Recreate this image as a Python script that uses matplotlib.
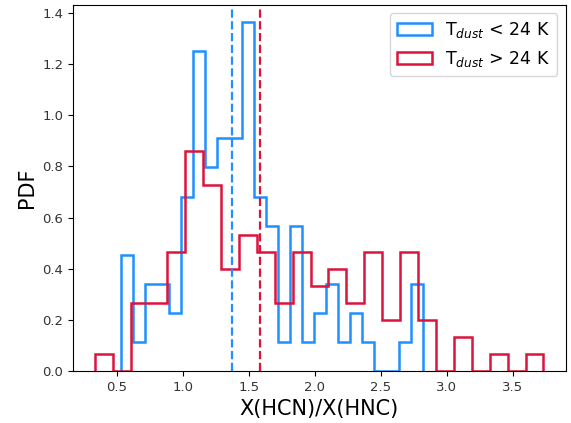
import numpy as np
import matplotlib
matplotlib.use('Agg')
import matplotlib.pyplot as plt

# counts per bin (25 bins each), shown as density
counts_cold = [4, 1, 3, 3, 2, 6, 11, 7, 8, 8, 12, 6, 5, 1, 5, 1, 2, 3, 1, 2, 1, 0, 0, 1, 3]
range_cold = (0.528, 2.818)
counts_warm = [1, 0, 4, 4, 7, 13, 11, 6, 8, 7, 4, 7, 5, 6, 4, 7, 3, 7, 3, 0, 2, 0, 1, 0, 1]
range_warm = (0.336, 3.733)

median_cold = 1.372
median_warm = 1.582

labels = [r'T$_{dust}$ < 24 K', r'T$_{dust}$ > 24 K']
col_cold = 'dodgerblue'
col_warm = 'crimson'

edges_cold = np.linspace(range_cold[0], range_cold[1], len(counts_cold) + 1)
edges_warm = np.linspace(range_warm[0], range_warm[1], len(counts_warm) + 1)

fig = plt.figure(figsize=(5.71, 4.23), dpi=100)
ax = fig.add_axes([0.128, 0.123, 0.863, 0.866])

ax.hist(edges_cold[:-1], bins=edges_cold, weights=counts_cold, density=True,
        histtype='step', color=col_cold, lw=1.8, label=labels[0])
ax.hist(edges_warm[:-1], bins=edges_warm, weights=counts_warm, density=True,
        histtype='step', color=col_warm, lw=1.8, label=labels[1])

ax.axvline(median_cold, color=col_cold, ls='--', lw=1.6)
ax.axvline(median_warm, color=col_warm, ls='--', lw=1.6)

ax.set_xlabel('X(HCN)/X(HNC)', fontsize=15)
ax.set_ylabel('PDF', fontsize=15)
ax.tick_params(labelsize=9.5, labelcolor='#333333')
ax.legend(loc='upper right', fontsize=12.5)

fig.savefig('out.png', dpi=100)
